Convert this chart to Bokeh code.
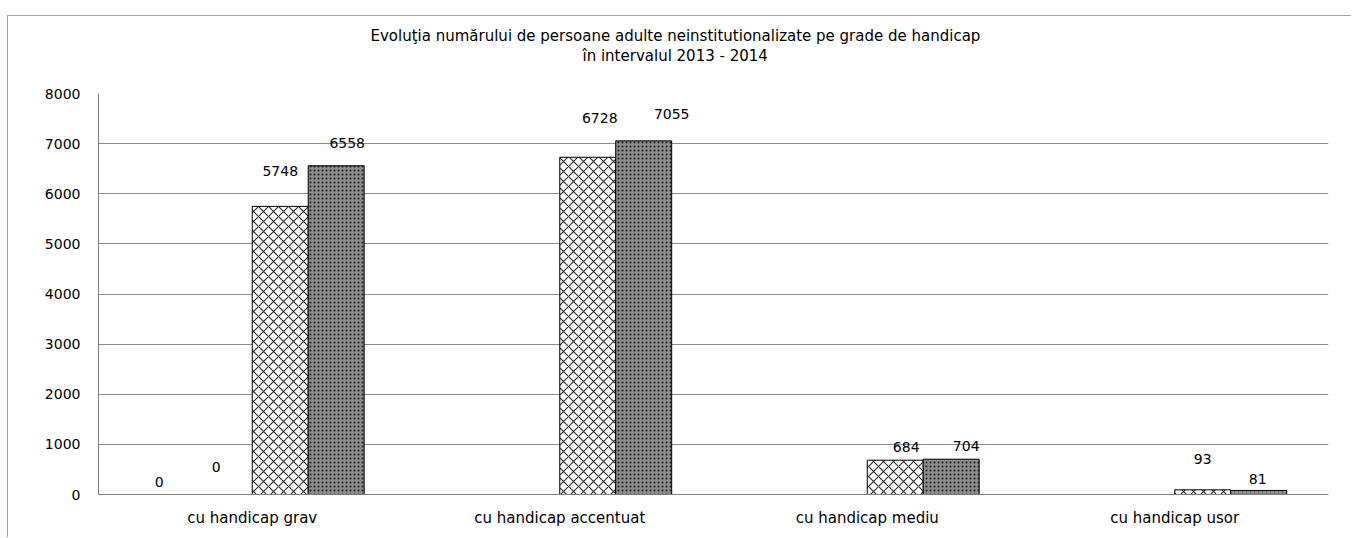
from bokeh.plotting import figure
from bokeh.models import ColumnDataSource, FactorRange, FixedTicker, LabelSet, Title
from bokeh.core.properties import value
from bokeh.transform import dodge
from bokeh.embed import file_html
from bokeh.resources import INLINE

# ---- data ----
categories = ["cu handicap grav", "cu handicap accentuat", "cu handicap mediu", "cu handicap usor"]
series_names = ["Seria 1", "Seria 2", "Seria 3", "Seria 4"]
serie1 = [0, None, None, None]
serie2 = [0, None, None, None]
serie3 = [5748, 6728, 684, 93]
serie4 = [6558, 7055, 704, 81]
y_ticks = [0, 1000, 2000, 3000, 4000, 5000, 6000, 7000, 8000]
title_line1 = "Evoluţia numărului de persoane adulte neinstitutionalizate pe grade de handicap"
title_line2 = "în intervalul 2013 - 2014"

# label placement tweaks (pixels), per series per category
lbl_dx = [[-9, 0, 0, 0], [-8, 0, 0, 0], [0, 12, 11, 0], [11, 28, 15, -1]]
lbl_dy = [[13, 0, 0, 0], [28, 0, 0, 0], [35, 39, 13, 31], [23, 27, 13, 11]]

FONT = "DejaVu Sans"
all_series = [serie1, serie2, serie3, serie4]
bar_w = 0.182
offsets = [(-1.5 + i) * bar_w for i in range(4)]

p = figure(
    x_range=FactorRange(*categories, range_padding=0),
    y_range=(0, 8000),
    width=1344, height=522,
    output_backend="svg", toolbar_location=None,
    min_border_left=90, min_border_right=24, min_border_top=77, min_border_bottom=44,
    background_fill_color="white", border_fill_color="white",
    outline_line_color=None,
    styles={"margin-top": "15px", "margin-left": "7px",
            "border-top": "1px solid #a6a6a6", "border-left": "1px solid #a6a6a6"},
)

# title: two centred lines (offset from frame's left edge), with a blank spacer below
title_kw = dict(align="left", text_font=FONT, text_font_size="15px",
                text_font_style="normal", text_color="#000000")
spacer = Title(text=" ", offset=0, standoff=9, **title_kw)
t2 = Title(text=title_line2, offset=484, standoff=0, **title_kw)
t1 = Title(text=title_line1, offset=272, standoff=0, **title_kw)
p.add_layout(spacer, "above")
p.add_layout(t2, "above")
p.add_layout(t1, "above")

styles = [
    dict(fill_color="white", hatch_pattern=None),
    dict(fill_color="white", hatch_pattern=None),
    dict(fill_color="white", hatch_pattern="diagonal_cross", hatch_color="#2a2a2a",
         hatch_scale=10, hatch_weight=1.1),
    dict(fill_color="#8c8c8c", hatch_pattern="dot", hatch_color="#1a1a1a",
         hatch_scale=4, hatch_weight=1.6),
]

for i, (name, vals) in enumerate(zip(series_names, all_series)):
    xs = [c for c, v in zip(categories, vals) if v is not None]
    ys = [v for v in vals if v is not None]
    src = ColumnDataSource(dict(cat=xs, val=ys,
                                txt=[str(v) for v in ys],
                                dx=[lbl_dx[i][k] for k, v in enumerate(vals) if v is not None],
                                dy=[lbl_dy[i][k] for k, v in enumerate(vals) if v is not None]))
    p.vbar(x=dodge("cat", offsets[i], range=p.x_range), top="val", width=bar_w,
           source=src, line_color="#000000", line_width=1, **styles[i])
    labels = LabelSet(x=dodge("cat", offsets[i], range=p.x_range), y="val", text="txt",
                      x_offset="dx", y_offset="dy", source=src,
                      text_align="center", text_baseline="middle",
                      text_font=value(FONT), text_font_size=value("14px"),
                      text_color=value("#000000"))
    p.add_layout(labels)

p.yaxis.ticker = FixedTicker(ticks=y_ticks)
p.yaxis.axis_line_color = "#808080"
p.yaxis.major_tick_line_color = None
p.yaxis.minor_tick_line_color = None
p.yaxis.major_label_standoff = 12
p.yaxis.major_label_text_font = FONT
p.yaxis.major_label_text_font_size = "14px"
p.yaxis.major_label_text_color = "#000000"

p.xaxis.axis_line_color = "#808080"
p.xaxis.major_tick_line_color = None
p.xaxis.minor_tick_line_color = None
p.xaxis.major_label_standoff = 8
p.xaxis.major_label_text_font = FONT
p.xaxis.major_label_text_font_size = "15px"
p.xaxis.major_label_text_color = "#000000"

p.xgrid.grid_line_color = None
p.ygrid.grid_line_color = "#8c8c8c"
p.ygrid.grid_line_width = 1

open("out.html", "w").write(file_html(p, INLINE))
